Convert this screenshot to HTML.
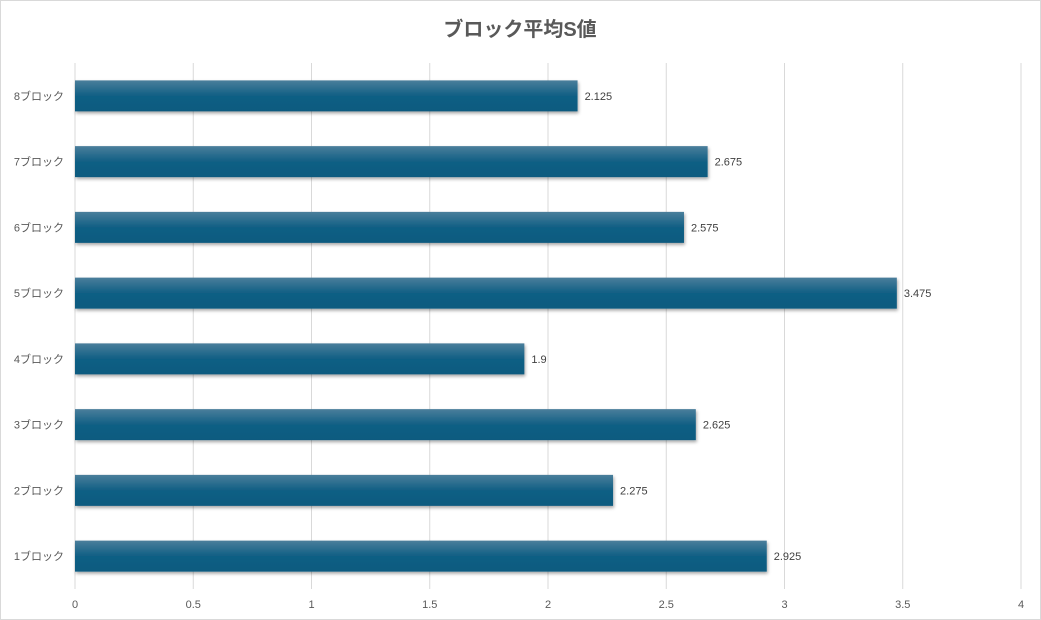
<!DOCTYPE html>
<html><head><meta charset="utf-8">
<style>
html,body{margin:0;padding:0;background:#fff;}
svg{display:block;font-family:"Liberation Sans","Noto Sans CJK JP",sans-serif;}
</style></head>
<body>
<svg id="chart" width="1041" height="620">
<defs>
<linearGradient id="bg" x1="0" y1="0" x2="0" y2="1">
<stop offset="0" stop-color="#4a7e9b"/>
<stop offset="0.5" stop-color="#115f84"/>
<stop offset="1" stop-color="#0a5a7f"/>
</linearGradient>
<filter id="sh" x="-5%" y="-20%" width="110%" height="160%">
<feDropShadow dx="1" dy="2" stdDeviation="1.5" flood-color="#000" flood-opacity="0.35"/>
</filter>
</defs>
<rect x="0.5" y="0.5" width="1040" height="619" fill="#fff" stroke="#d9d9d9"/>
<text x="520" y="36" text-anchor="middle" font-size="20" font-weight="bold" fill="#595959">ブロック平均S値</text>
<g id="grid"></g>
<g id="bars"></g>
</svg>
<script>
const categories=["1ブロック","2ブロック","3ブロック","4ブロック","5ブロック","6ブロック","7ブロック","8ブロック"];
const values=[2.925,2.275,2.625,1.9,3.475,2.575,2.675,2.125];
const ticks=[0,0.5,1,1.5,2,2.5,3,3.5,4];
const tickLabels=["0","0.5","1","1.5","2","2.5","3","3.5","4"];
const NS="http://www.w3.org/2000/svg";
const x0=75,x1=1021,vmax=4;
const xs=v=>x0+(x1-x0)*v/vmax;
const plotTop=63,plotBottom=589;
const band=(plotBottom-plotTop)/categories.length;
const yc=i=>plotBottom-band*(i+0.5);
const bh=31;
function mk(t,a){const e=document.createElementNS(NS,t);for(const k in a)e.setAttribute(k,a[k]);return e;}
const grid=document.getElementById('grid'),bars=document.getElementById('bars');
ticks.forEach((t,i)=>{
  const l=mk('line',{x1:xs(t),x2:xs(t),y1:plotTop,y2:plotBottom,stroke:'#d9d9d9','stroke-width':1});
  
  
  grid.appendChild(l);
  const tx=mk('text',{x:xs(t),y:608,'text-anchor':'middle','font-size':11,fill:'#595959'});
  tx.textContent=tickLabels[i];
  
  
  grid.appendChild(tx);
});
categories.forEach((c,i)=>{
  const y=yc(i);
  const r=mk('rect',{x:x0,y:y-bh/2,width:xs(values[i])-x0,height:bh,fill:'url(#bg)',filter:'url(#sh)'});
  
  
  bars.appendChild(r);
  const lb=mk('text',{x:64,y:y+4,'text-anchor':'end','font-size':11,fill:'#595959'});
  lb.textContent=c;
  
  
  bars.appendChild(lb);
  const vl=mk('text',{x:xs(values[i])+7,y:y+4,'font-size':11,fill:'#404040'});
  vl.textContent=String(values[i]);
  
  
  bars.appendChild(vl);
});
</script>
</body></html>
